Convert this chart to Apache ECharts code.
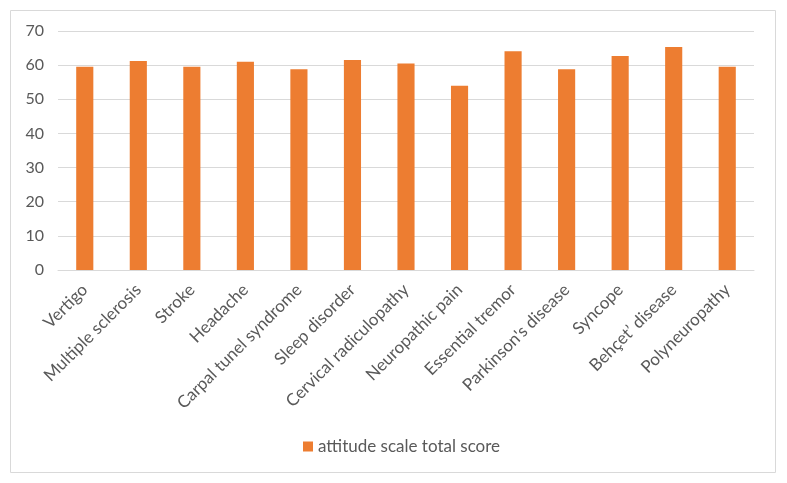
<!DOCTYPE html>
<html>
<head>
<meta charset="utf-8">
<script src="https://cdn.jsdelivr.net/npm/echarts@6/dist/echarts.min.js"></script>
<style>
  html, body { margin: 0; padding: 0; background: #fff; }
  #chart { width: 787px; height: 483px; }
</style>
</head>
<body>
<div id="chart"></div>
<script>
// categories and scores
const diseases = ['Vertigo', 'Multiple sclerosis', 'Stroke', 'Headache', 'Carpal tunel syndrome',
  'Sleep disorder', 'Cervical radiculopathy', 'Neuropathic pain', 'Essential tremor',
  "Parkinson's disease", 'Syncope', 'Behçet’ disease', 'Polyneuropathy'];
const scores = [59.5, 61.2, 59.5, 61.0, 58.8, 61.5, 60.5, 54.0, 64.1, 58.8, 62.7, 65.3, 59.5];
const seriesName = 'attitude scale total score';

const myChart = echarts.init(document.getElementById('chart'));
const option = {
  animation: false,
  textStyle: { fontFamily: 'Lato' },
  // outer frame
  graphic: [{
    type: 'rect',
    shape: { x: 10.5, y: 10.5, width: 765, height: 462 },
    style: { fill: 'none', stroke: '#d9d9d9', lineWidth: 1 },
    silent: true
  }],
  grid: { left: 58, right: 33, top: 31, bottom: 213 },
  legend: {
    top: 433,
    left: 298,
    icon: 'rect',
    itemWidth: 10,
    itemHeight: 10,
    itemGap: 6,
    textStyle: { color: '#595959', fontSize: 17, fontFamily: 'Lato' },
    data: [seriesName]
  },
  xAxis: {
    type: 'category',
    data: diseases,
    axisLine: { lineStyle: { color: '#d9d9d9', width: 1 } },
    axisTick: { show: false },
    axisLabel: {
      interval: 0,
      rotate: 45,
      margin: 17,
      color: '#595959',
      fontSize: 17,
      fontFamily: 'Lato'
    }
  },
  yAxis: {
    type: 'value',
    min: 0,
    max: 70,
    interval: 10,
    axisLine: { show: false },
    axisTick: { show: false },
    axisLabel: { color: '#595959', fontSize: 16, margin: 14, fontFamily: 'Lato' },
    splitLine: { lineStyle: { color: '#d9d9d9', width: 1 } }
  },
  series: [{
    name: seriesName,
    type: 'bar',
    data: scores,
    barWidth: '32%',
    itemStyle: { color: '#ED7D31' }
  }]
};
myChart.setOption(option);
</script>
</body>
</html>
